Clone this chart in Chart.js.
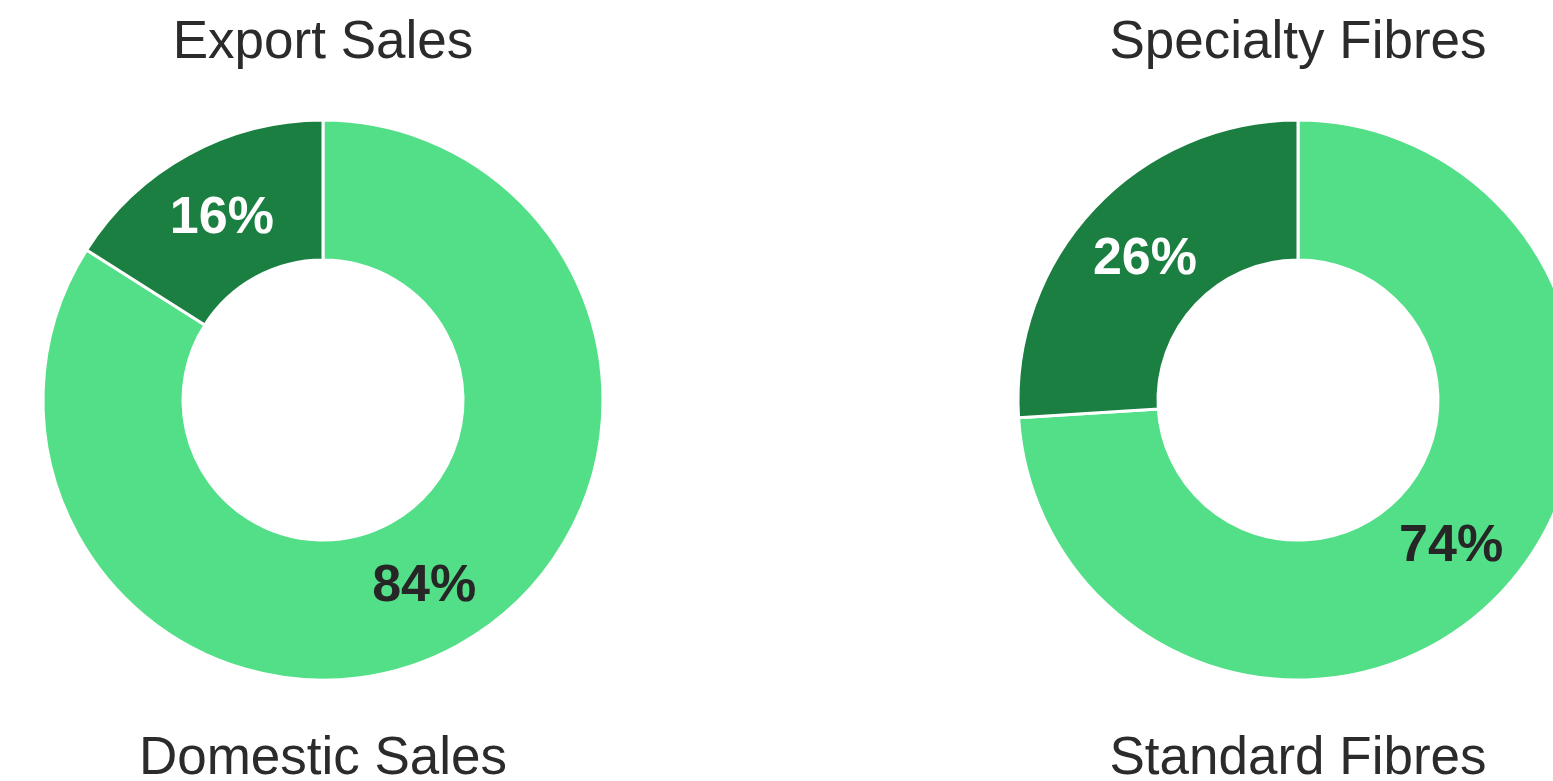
<!DOCTYPE html>
<html>
<head>
<meta charset="utf-8">
<script src="https://cdn.jsdelivr.net/npm/chart.js@4.4.0/dist/chart.umd.min.js"></script>
<style>
  html, body { margin: 0; padding: 0; background: #fff; overflow: hidden; }
  .box { position: absolute; top: 0; width: 646px; height: 781px; }
  #leftBox { left: 0; }
  #rightBox { left: 975px; }
</style>
</head>
<body>
<div class="box" id="leftBox"><canvas id="salesChart"></canvas></div>
<div class="box" id="rightBox"><canvas id="fibreChart"></canvas></div>
<script>
// sales split
var salesLabels = ['Domestic Sales', 'Export Sales'];
var salesValues = [84, 16];
// fibre split
var fibreLabels = ['Standard Fibres', 'Specialty Fibres'];
var fibreValues = [74, 26];

var sliceColors = ['#52df87', '#1a7f40'];
var labelColors = ['#262626', '#ffffff'];

// writes the percent in the middle of each slice
var percentLabels = {
  id: 'percentLabels',
  afterDatasetsDraw: function(chart) {
    var ctx = chart.ctx;
    var meta = chart.getDatasetMeta(0);
    var values = chart.data.datasets[0].data;
    ctx.save();
    ctx.font = 'bold 52px "Liberation Sans", Arial, sans-serif';
    ctx.textAlign = 'center';
    ctx.textBaseline = 'middle';
    meta.data.forEach(function(arc, i) {
      var pos = arc.tooltipPosition();
      ctx.fillStyle = labelColors[i];
      ctx.fillText(values[i] + '%', pos.x, pos.y + 3);
    });
    ctx.restore();
  }
};

function makeDoughnut(id, labels, values) {
  return new Chart(document.getElementById(id), {
    type: 'doughnut',
    data: {
      labels: labels,
      datasets: [{
        data: values,
        backgroundColor: sliceColors,
        borderColor: '#ffffff',
        borderWidth: 3
      }]
    },
    options: {
      responsive: true,
      maintainAspectRatio: false,
      animation: false,
      events: [],
      cutout: '50%',
      layout: { padding: 0 },
      plugins: {
        legend: { display: false },
        tooltip: { enabled: false },
        title: {
          display: true,
          text: labels[1],
          color: '#2b2b2b',
          font: { family: '"Liberation Sans", Arial, sans-serif', size: 53, weight: 'normal', lineHeight: 1.2 },
          padding: { top: 12, bottom: 43 }
        },
        subtitle: {
          display: true,
          position: 'bottom',
          text: labels[0],
          color: '#2b2b2b',
          font: { family: '"Liberation Sans", Arial, sans-serif', size: 53, weight: 'normal', lineHeight: 0.8 },
          padding: { top: 57, bottom: 0 }
        }
      }
    },
    plugins: [percentLabels]
  });
}

makeDoughnut('salesChart', salesLabels, salesValues);
makeDoughnut('fibreChart', fibreLabels, fibreValues);
</script>
</body>
</html>
